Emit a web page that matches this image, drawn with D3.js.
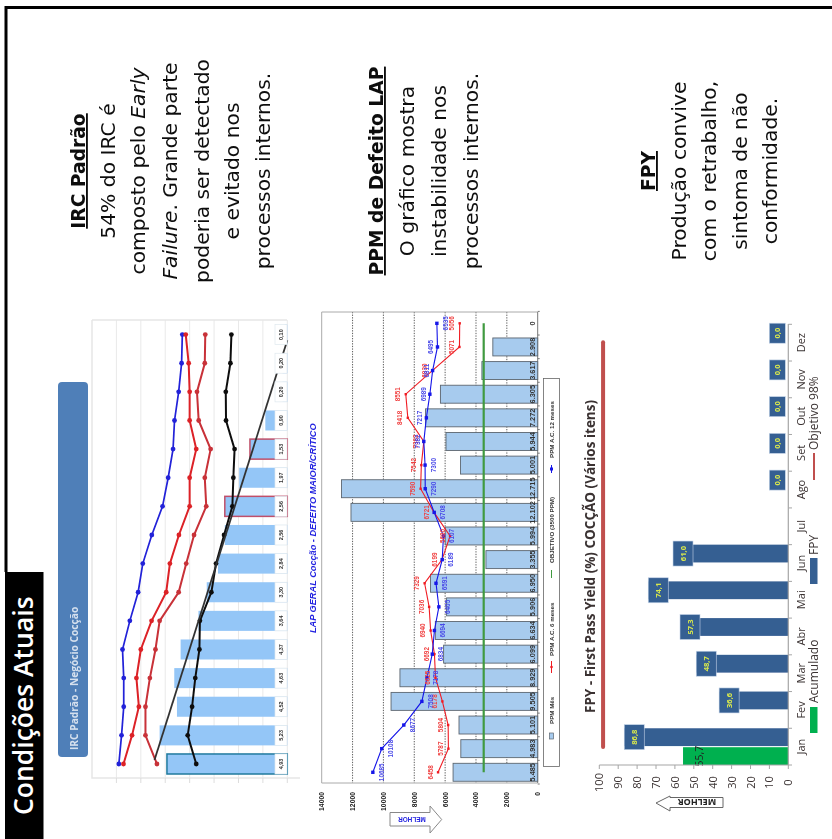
<!DOCTYPE html>
<html><head><meta charset="utf-8">
<script src="https://cdnjs.cloudflare.com/ajax/libs/d3/7.8.5/d3.min.js"></script>
<style>html,body{margin:0;padding:0;background:#fff}svg{display:block}</style>
</head><body><svg id="c" width="832" height="839"></svg>
<script>
// --- IRC chart
const ircIdx = d3.range(16);
const ircBars = [4.93,5.23,4.52,4.63,4.37,3.64,3.30,2.84,2.56,2.56,1.97,1.53,0.90,0.20,0.20,0.10];
const ircBlue = [6.90,6.79,6.70,6.70,6.75,6.45,6.11,5.92,5.55,5.11,4.88,4.68,4.62,4.45,4.33,4.30];
const ircRedA = [6.71,6.36,6.08,6.18,6.00,5.56,4.96,4.81,4.44,4.00,4.00,3.73,4.00,4.00,4.04,4.16];
const ircRedB = [5.34,5.81,5.81,5.63,5.40,5.23,4.45,4.14,3.82,3.32,3.38,3.14,3.63,3.70,3.38,3.36];
const ircBlack = [3.73,4.08,3.90,3.77,3.60,3.58,3.11,2.92,2.59,2.25,2.21,2.16,2.51,2.52,2.33,2.29];
const ircTrendIdx = [0.14,14.8];
const ircTrendVal = [5.44,0];
const ircGrid = [0,1,2,3,4,5,6,7];
const ircTeal = [0];
const ircRedBox = [9,11];
// --- LAP chart
const lapBars = [5485,4983,5101,9505,8929,6099,6634,5906,6950,3355,5994,12102,12715,5001,5944,7272,6305,3617,2908,0];
const lapBlue = [10685,10108,8677,7508,7178,6834,6694,6405,6591,6189,6107,6708,7290,7300,7382,7217,6989,6811,6495,6535];
const lapRed  = [6458,5787,5804,6178,6625,6692,6940,7036,7329,6199,5680,6721,7590,7542,7382,8418,8551,6830,5071,5056];
const lapBlueSide = [1,1,1,1,1,1,1,1,1,1,1,1,1,1,-1,-1,-1,-1,-1,1];
const lapObjective = 3500;
const lapTicks = [0,2000,4000,6000,8000,10000,12000,14000];
// --- FPY chart
const months = ["Jan","Fev","Mar","Abr","Mai","Jun","Jul","Ago","Set","Out","Nov","Dez"];
const fpy = [86.8,36.6,48.7,57.3,74.1,61.0,null,0,0,0,0,0];
const acumulado = [55.7];
const fpyObjective = 98;
const fpyTicks = [0,10,20,30,40,50,60,70,80,90,100];
// --- texts
const col1 = [["IRC Padrão",85,"b"],["54% do IRC é",115],["composto pelo |Early",145],["|Failure|. Grande parte",177],["poderia ser detectado",208.5],["e evitado nos",239],["processos internos.",269.5]];
const col2 = [["PPM de Defeito LAP",383,"b"],["O gráfico mostra",414],["instabilidade nos",446],["processos internos.",477.5]];
const col3 = [["FPY",655,"b"],["Produção convive",686],["com o retrabalho,",716],["sintoma de não",747],["conformidade.",777]];

const svg = d3.select("#c");
const defs = svg.append("defs");
[["b1",0.6],["b2",0.38],["b3",0.45],["b4",0.3]].forEach(([id,s])=>{
  defs.append("filter").attr("id",id).attr("x","-5%").attr("y","-5%").attr("width","110%").attr("height","110%")
    .append("feGaussianBlur").attr("stdDeviation",s);
});
function rt(g,x,y,s,o={}){
  return g.append("text").attr("transform",`translate(${x},${y}) rotate(-90)`)
    .attr("text-anchor",o.anchor||"middle")
    .attr("font-family",o.font||"'Liberation Sans'")
    .attr("font-size",o.size||8).attr("font-weight",o.weight||"normal")
    .attr("font-style",o.style||"normal").attr("fill",o.fill||"#000").text(s);
}
// frame
svg.append("path").attr("d","M832,7.5H6V572").attr("fill","none").attr("stroke","#000").attr("stroke-width",3);

// side texts
const tg = svg.append("g").attr("filter","url(#b4)");
function para(lines){
  lines.forEach(([s,x,b])=>{
    const t = tg.append("text").attr("transform",`translate(${x},171) rotate(-90)`).attr("text-anchor","middle")
      .attr("font-family","'DejaVu Sans'").attr("font-size",b?18.7:20.3).attr("font-weight",b?"bold":"normal")
      .attr("fill","#111");
    if(b) t.attr("text-decoration","underline");
    s.split("|").forEach((p,i)=>{t.append("tspan").attr("font-style",(s.includes("|")&&i===1)?"italic":"normal").text(p);});
  });
}
para(col1);para(col2);para(col3);

// black box
svg.append("rect").attr("x",5).attr("y",572).attr("width",38.5).attr("height",267).attr("fill","#000");
rt(svg,33,815,"Condições Atuais",{anchor:"start",font:"'Open Sans'",size:26.5,weight:600,fill:"#fff"});

// ---------- IRC chart
const g1 = svg.append("g").attr("filter","url(#b1)");
const x1 = d3.scaleLinear().domain([0,8]).range([287.3,92]);
const y1 = d3.scaleBand().domain(ircIdx).range([778.3,320.3]).paddingInner(0.3).paddingOuter(0.15);
const y1L = d3.scaleLinear().domain([-0.5,15.5]).range([778.3,320.3]);
g1.selectAll("line.g").data(ircGrid).join("line").attr("x1",d=>x1(d)).attr("x2",d=>x1(d)).attr("y1",320).attr("y2",778).attr("stroke","#e9e9e9").attr("stroke-width",1);
g1.append("path").attr("d","M92,320H287M92,320V778H300").attr("fill","none").attr("stroke","#e6e6e6").attr("stroke-width",1.5);
g1.selectAll("line.t").data(ircGrid).join("line").attr("x1",d=>x1(d)).attr("x2",d=>x1(d)).attr("y1",778).attr("y2",783).attr("stroke","#ddd");
g1.selectAll("rect.b").data(ircIdx).join("rect").attr("class","b")
  .attr("x",i=>x1(ircBars[i])).attr("width",i=>x1(0)-x1(ircBars[i]))
  .attr("y",i=>y1(i)).attr("height",y1.bandwidth())
  .attr("fill","#94c6f7")
  .attr("stroke",i=>ircTeal.includes(i)?"#1f7a9e":ircRedBox.includes(i)?"#c0506a":"none").attr("stroke-width",1.5);
const ln1 = d3.line().x(d=>x1(d[1])).y(d=>y1L(d[0]));
function irc(vals,col,w){
  const data = vals.map((v,i)=>[i,v]);
  g1.append("path").datum(data).attr("d",ln1).attr("fill","none").attr("stroke",col).attr("stroke-width",w);
  g1.selectAll(null).data(data).join("circle").attr("cx",d=>x1(d[1])).attr("cy",d=>y1L(d[0])).attr("r",2.4).attr("fill",col);
}
irc(ircBlue,"#2020d8",1.7);irc(ircRedA,"#dc2026",2);irc(ircRedB,"#c83038",2);irc(ircBlack,"#111",2);
g1.append("line").attr("x1",x1(ircTrendVal[0])).attr("y1",y1L(ircTrendIdx[0])).attr("x2",x1(ircTrendVal[1])).attr("y2",y1L(ircTrendIdx[1])).attr("stroke","#333").attr("stroke-width",1.8);
g1.selectAll("rect.l").data(ircIdx).join("rect").attr("class","l")
  .attr("x",275).attr("width",12).attr("y",i=>y1L(i)-10).attr("height",20).attr("fill","#fff").attr("stroke","#dfe8ee").attr("stroke-width",.7);
ircIdx.forEach(i=>rt(g1,x1(0)-4,y1L(i),d3.format(".2f")(ircBars[i]).replace(".",","),{size:5.5,fill:"#333",weight:"bold"}));
// IRC title bar
svg.append("rect").attr("x",58).attr("y",382).attr("width",30).attr("height",375).attr("rx",4).attr("fill","#4f7fb8").attr("filter","url(#b4)");
rt(svg,78,750,"IRC Padrão - Negócio Cocção",{anchor:"start",font:"'Open Sans'",size:10.2,weight:"bold",fill:"#d5e0ee"}).attr("filter","url(#b4)");

// ---------- LAP chart
const g2 = svg.append("g").attr("filter","url(#b2)");
const x2 = d3.scaleLinear().domain([0,14000]).range([537.7,321.7]);
const yI2 = d3.range(lapBars.length);
const y2 = d3.scaleBand().domain(yI2).range([784.1,311.5]).paddingInner(0.24).paddingOuter(0.12);
const c2 = i=>y2(i)+y2.bandwidth()/2;
rt(svg,316,633,"LAP GERAL Cocção - DEFEITO MAIOR/CRÍTICO",{anchor:"start",font:"'Liberation Sans'",size:9.2,weight:"bold",style:"italic",fill:"#2424e0"}).attr("filter","url(#b2)");
g2.selectAll("line.gr").data(lapTicks.filter(d=>d>0&&d<14000)).join("line").attr("x1",d=>x2(d)).attr("x2",d=>x2(d)).attr("y1",312).attr("y2",783).attr("stroke","#333").attr("stroke-width",.8).attr("stroke-dasharray","1.3 1.3");
g2.append("path").attr("d",`M${x2(0)},312H${x2(14000)}V783H${x2(0)}`).attr("fill","none").attr("stroke","#aaa").attr("stroke-width",1);
g2.append("line").attr("x1",x2(0)).attr("x2",x2(0)).attr("y1",312).attr("y2",783).attr("stroke","#777");
g2.selectAll("line.tk").data(d3.range(21)).join("line").attr("x1",x2(0)).attr("x2",x2(0)+2).attr("y1",d=>784-d*23.63).attr("y2",d=>784-d*23.63).attr("stroke","#777");
g2.selectAll("rect.b").data(yI2.filter(i=>lapBars[i]>0)).join("rect").attr("x",i=>x2(lapBars[i])).attr("width",i=>x2(0)-x2(lapBars[i])).attr("y",i=>y2(i)).attr("height",y2.bandwidth()).attr("fill","#a7cbee").attr("stroke","#5c6670").attr("stroke-width",.9);
g2.append("line").attr("x1",x2(lapObjective)).attr("x2",x2(lapObjective)).attr("y1",c2(0)).attr("y2",c2(19)).attr("stroke","#3f9a3f").attr("stroke-width",2.2);
const ln2 = d3.line().x(d=>x2(d)).y((d,i)=>c2(i));
g2.append("path").datum(lapRed).attr("d",ln2).attr("fill","none").attr("stroke","#f01c24").attr("stroke-width",1.1);
g2.selectAll("rect.r").data(lapRed).join("rect").attr("x",d=>x2(d)-1.2).attr("y",(d,i)=>c2(i)-1.2).attr("width",2.4).attr("height",2.4).attr("fill","#f01c24");
g2.append("path").datum(lapBlue).attr("d",ln2).attr("fill","none").attr("stroke","#1414e8").attr("stroke-width",1.1);
g2.selectAll("rect.bl").data(lapBlue).join("rect").attr("x",d=>x2(d)-1.7).attr("y",(d,i)=>c2(i)-1.7).attr("width",3.4).attr("height",3.4).attr("fill","#1414e8");
lapRed.forEach((v,i)=>rt(g2,x2(v)-5.5,c2(i),String(v),{size:6.4,fill:"#f04040",weight:"bold"}));
lapBlue.forEach((v,i)=>rt(g2,x2(v)+(lapBlueSide[i]>0?11:-4),c2(i),String(v),{size:6.4,fill:"#4848e8",weight:"bold"}));
lapBars.forEach((v,i)=>rt(g2,x2(0)-3,c2(i),d3.format(",")(v).replace(",","."),{size:7.4,fill:"#333",weight:"bold"}));
lapTicks.forEach(d=>rt(g2,x2(d)+2.5,792,String(d),{anchor:"end",size:6.8,fill:"#222",weight:"bold"}));
// legend
g2.append("rect").attr("x",543.5).attr("y",378.5).attr("width",16).attr("height",388).attr("fill","#fff").attr("stroke","#666").attr("stroke-width",.8);
g2.append("rect").attr("x",549.5).attr("y",733).attr("width",4).attr("height",6).attr("fill","#a7cbee").attr("stroke","#5c6670").attr("stroke-width",.7);
rt(g2,554,724,"PPM Mês",{anchor:"start",size:6.2,weight:"bold",fill:"#333"});
g2.append("line").attr("x1",551.5).attr("x2",551.5).attr("y1",661).attr("y2",673).attr("stroke","#f01c24");
g2.append("circle").attr("cx",551.5).attr("cy",667).attr("r",1.3).attr("fill","#f01c24");
rt(g2,554,656,"PPM A.C. 6 meses",{anchor:"start",size:6.2,weight:"bold",fill:"#333"});
g2.append("line").attr("x1",551.5).attr("x2",551.5).attr("y1",570).attr("y2",578).attr("stroke","#3f9a3f");
rt(g2,554,563,"OBJETIVO (3500 PPM)",{anchor:"start",size:6.2,weight:"bold",fill:"#333"});
g2.append("line").attr("x1",551.5).attr("x2",551.5).attr("y1",465).attr("y2",473).attr("stroke","#1414e8");
g2.append("rect").attr("x",550).attr("y",467.5).attr("width",3).attr("height",3).attr("fill","#1414e8");
rt(g2,554,458,"PPM A.C. 12 meses",{anchor:"start",size:6.2,weight:"bold",fill:"#333"});
// MELHOR arrow (LAP)
g2.append("path").attr("d","M390,812.5H430V806L441.7,819.5L430,833V826H390Z").attr("fill","#fff").attr("stroke","#888").attr("stroke-width",1);
g2.append("text").attr("transform","translate(412,819.5) rotate(180)").attr("text-anchor","middle").attr("dy","0.35em").attr("font-family","'Liberation Sans'").attr("font-size",6.4).attr("font-weight","bold").attr("fill","#2424e0").text("MELHOR");

// ---------- FPY chart
const g3 = svg.append("g").attr("filter","url(#b3)");
const x3 = d3.scaleLinear().domain([0,100]).range([788.3,599.3]);
const y3 = d3.scaleBand().domain(months).range([765,324.3]);
const y3i = d3.scaleBand().domain(["FPY","Acumulado"]).range([0,y3.bandwidth()]).paddingInner(0.06);
rt(g3,595,556.5,"FPY - First Pass Yield (%) COCÇÃO (Vários itens)",{font:"'Open Sans'",size:13.5,weight:"bold",fill:"#3a3232"});
g3.append("line").attr("x1",x3(fpyObjective)).attr("x2",x3(fpyObjective)).attr("y1",y3("Jan")+y3.bandwidth()-18).attr("y2",y3("Dez")+18).attr("stroke","#c0504d").attr("stroke-width",4).attr("stroke-linecap","round");
g3.append("rect").attr("x",x3(acumulado[0])).attr("width",x3(0)-x3(acumulado[0])).attr("y",y3("Jan")+y3i("Acumulado")).attr("height",y3i.bandwidth()).attr("fill","#00b050");
rt(g3,x3(acumulado[0])+20,y3("Jan")+y3i("Acumulado")+y3i.bandwidth()/2,"55,7",{font:"'Open Sans'",size:10.5,fill:"#222"});
const fd = months.map((m,i)=>({m,v:fpy[i]})).filter(d=>d.v!==null);
g3.selectAll("rect.f").data(fd).join("rect").attr("x",d=>x3(d.v)).attr("width",d=>x3(0)-x3(d.v)).attr("y",d=>y3(d.m)).attr("height",y3i.bandwidth()).attr("fill","#355e92");
fd.forEach(d=>{
  const cy = y3(d.m)+y3i.bandwidth()/2;
  const zero = d.v===0;
  const w = zero?16:20, h = zero?20:25;
  const x = zero?x3(0)-19:x3(d.v);
  g3.append("rect").attr("x",x).attr("y",cy-h/2).attr("width",w).attr("height",h).attr("fill","#355e92").attr("stroke","#c5d5e8").attr("stroke-width",.6);
  rt(g3,x+w/2+3,cy,d.v.toFixed(1).replace(".",","),{font:"'Open Sans'",size:7.6,weight:"bold",fill:"#d8e84c"});
});
g3.append("path").attr("d","M599.3,765H788.3V324").attr("fill","none").attr("stroke","#a6a6a6").attr("stroke-width",1.2);
fpyTicks.forEach(d=>{
  g3.append("line").attr("x1",x3(d)).attr("x2",x3(d)).attr("y1",765).attr("y2",769).attr("stroke","#a6a6a6").attr("stroke-width",1);
  rt(g3,x3(d)+4,782.5,String(d),{font:"'Open Sans'",size:11,fill:"#3a3232"});
});
months.forEach(m=>{
  const yy=y3(m);
  g3.append("line").attr("x1",788.3).attr("x2",792).attr("y1",yy).attr("y2",yy).attr("stroke","#a6a6a6");
  rt(g3,805,yy+y3.bandwidth()/2,m,{font:"'Open Sans'",size:11,fill:"#3a3232"});
});
g3.append("line").attr("x1",788.3).attr("x2",792).attr("y1",765).attr("y2",765).attr("stroke","#a6a6a6");
// legend
g3.append("rect").attr("x",810).attr("y",707).attr("width",7.5).attr("height",26).attr("fill","#00b050");
rt(g3,818,703,"Acumulado",{anchor:"start",font:"'Open Sans'",size:12,fill:"#3a3232"});
g3.append("rect").attr("x",810).attr("y",558).attr("width",7.5).attr("height",26).attr("fill","#355e92");
rt(g3,818,555,"FPY",{anchor:"start",font:"'Open Sans'",size:12,fill:"#3a3232"});
g3.append("line").attr("x1",814).attr("x2",814).attr("y1",453).attr("y2",480).attr("stroke","#c0504d").attr("stroke-width",2);
rt(g3,818,450,"Objetivo 98%",{anchor:"start",font:"'Open Sans'",size:12,fill:"#3a3232"});
// MELHOR arrow (FPY)
g3.append("path").attr("d","M723,797.5V807.5H670V811L656,803L670,796V797.5Z").attr("fill","#fff").attr("stroke","#666").attr("stroke-width",1);
g3.append("text").attr("transform","translate(697,802.5) rotate(180)").attr("text-anchor","middle").attr("dy","0.35em").attr("font-family","'Open Sans'").attr("font-size",9).attr("font-weight","bold").attr("fill","#222").text("MELHOR");
</script></body></html>
